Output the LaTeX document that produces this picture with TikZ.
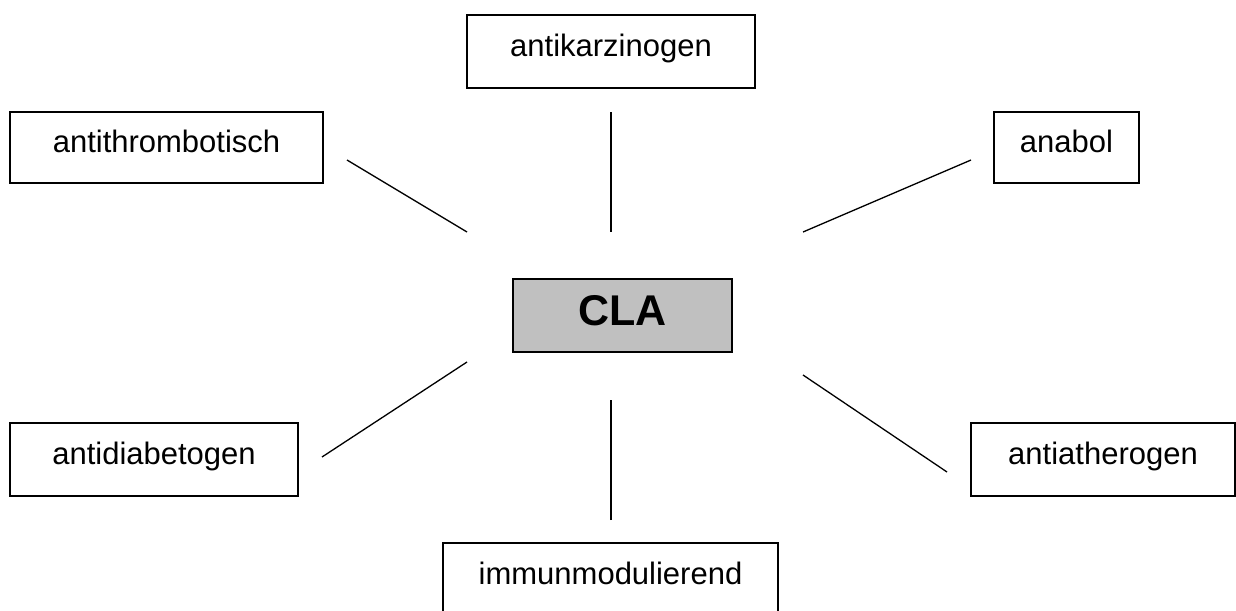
\documentclass[tikz,border=0pt]{standalone}
\usepackage{fontspec}
\setmainfont{Liberation Sans}
\usepackage{tikz}
\usetikzlibrary{positioning}
\definecolor{clagray}{HTML}{C0C0C0}

\tikzset{
  effect/.style={draw, line width=1.3pt, rectangle, inner sep=0pt,
    minimum height=73pt, text height=25pt, text depth=15pt,
    font=\fontsize{31}{37}\selectfont},
  center/.style={draw, line width=2.6pt, fill=clagray, rectangle, inner sep=0pt,
    minimum width=219pt, minimum height=73pt, text height=30pt, text depth=11pt,
    font=\fontsize{43}{50}\selectfont\bfseries},
  link/.style={line width=1.3pt}
}

\begin{document}
\begin{tikzpicture}[x=1pt,y=-1pt]
      \clip (0,0) rectangle (1236,610);
      \fill[white] (0,0) rectangle (1236,610);
      \node[center] (cla) at (622.5,315.5) {CLA};
      \node[effect, minimum width=288pt] (kar) at (611,51.5) {antikarzinogen};
      \node[effect, minimum width=313pt, minimum height=71pt] (thr) at (166.5,147.5) {antithrombotisch};
      \node[effect, minimum width=145pt, minimum height=71pt] (ana) at (1066.5,147.5) {anabol};
      \node[effect, minimum width=288pt] (dia) at (154,459.5) {antidiabetogen};
      \node[effect, minimum width=264pt] (ath) at (1103,459.5) {antiatherogen};
      \node[effect, minimum width=335pt] (imm) at (610.5,579.5) {immunmodulierend};
      % free ends of the connectors, they stop short of the boxes
      \coordinate (thr_1) at (347,160);  \coordinate (thr_2) at (467,232);
      \coordinate (kar_1) at (611,112);  \coordinate (kar_2) at (611,232);
      \coordinate (ana_1) at (971,160);  \coordinate (ana_2) at (803,232);
      \coordinate (dia_1) at (322,457);  \coordinate (dia_2) at (467,362);
      \coordinate (imm_1) at (611,520);  \coordinate (imm_2) at (611,400);
      \coordinate (ath_1) at (947,472);  \coordinate (ath_2) at (803,375);
      \draw[link] (thr_1) -- (thr_2);
      \draw[link] (kar_1) -- (kar_2);
      \draw[link] (ana_1) -- (ana_2);
      \draw[link] (dia_1) -- (dia_2);
      \draw[link] (imm_1) -- (imm_2);
      \draw[link] (ath_1) -- (ath_2);
    \end{tikzpicture}
\end{document}
